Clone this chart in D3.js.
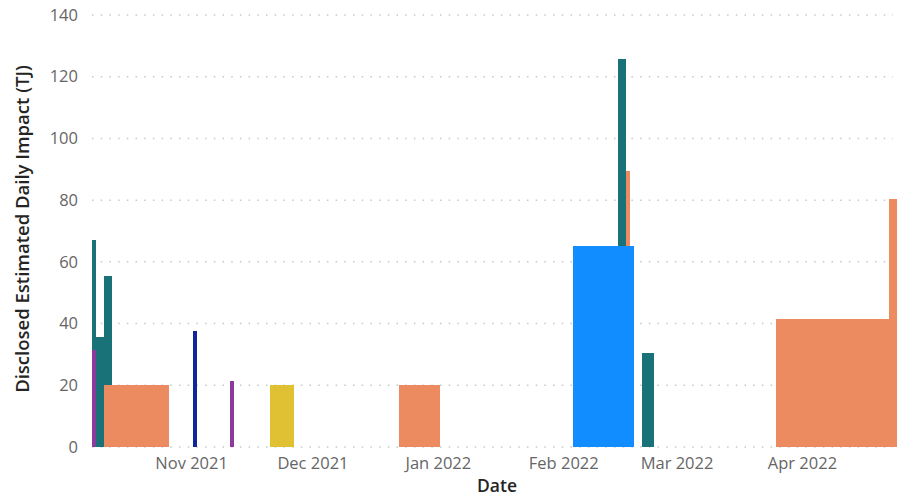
<!DOCTYPE html>
<html>
<head>
<meta charset="utf-8">
<script src="https://cdn.jsdelivr.net/npm/d3@7"></script>
<style>
  html, body { margin: 0; padding: 0; background: #fff; }
  svg { display: block; }
  .tick-label { font-family: "Segoe UI", "Open Sans", sans-serif; font-size: 16.5px; fill: #666666; }
  .axis-title { font-family: "Segoe UI", "Open Sans", sans-serif; font-weight: 600; fill: #252423; }
</style>
</head>
<body>
<svg id="chart" width="897" height="498"></svg>
<script>
// Disclosed events: one entry per event, first and last day inclusive,
// value is the estimated daily impact in TJ.
const eventSeries = ["purple", "teal", "orange", "navy", "purple", "yellow", "orange",
                     "blue", "teal", "orange", "teal", "orange", "orange"];
const eventFirst  = ["2021-10-08", "2021-10-08", "2021-10-11", "2021-11-02", "2021-11-11", "2021-11-21", "2021-12-23",
                     "2022-02-04", "2022-02-15", "2022-02-17", "2022-02-21", "2022-03-26", "2022-04-23"];
const eventLast   = ["2021-10-08", "2021-10-12", "2021-10-26", "2021-11-02", "2021-11-11", "2021-11-26", "2022-01-01",
                     "2022-02-18", "2022-02-16", "2022-02-17", "2022-02-23", "2022-04-22", "2022-04-24"];
const eventValue  = [31.5, 35.5, 20, 37.6, 21.3, 20, 20,
                     65, 60.6, 24.4, 30.4, 41.4, 80.4];

// Stacking order (bottom to top) and fill of each series
const seriesOrder  = ["blue", "purple", "navy", "yellow", "orange", "teal"];
const seriesColors = ["#118DFF", "#8C3A9B", "#12239E", "#E0C134", "#EC8A60", "#197278"];

// Axis settings
const yTicks = [0, 20, 40, 60, 80, 100, 120, 140];
const xDomain = ["2021-10-07T12:00", "2022-04-24T12:00"];

const parseDay = d3.utcParse("%Y-%m-%d");
const parseStamp = d3.utcParse("%Y-%m-%dT%H:%M");

const svg = d3.select("#chart");
const plot = { left: 92, right: 897, top: 15, bottom: 447 };

const x = d3.scaleUtc()
  .domain(xDomain.map(parseStamp))
  .range([plot.left, plot.right]);
const y = d3.scaleLinear()
  .domain([0, 140])
  .range([plot.bottom, plot.top]);
const color = d3.scaleOrdinal(seriesOrder, seriesColors);

// Gridlines (dotted)
svg.append("g")
  .selectAll("line")
  .data(yTicks)
  .join("line")
  .attr("x1", plot.left)
  .attr("x2", 893)
  .attr("y1", d => y(d))
  .attr("y2", d => y(d))
  .attr("stroke", "#C8C8C8")
  .attr("stroke-width", 1.5)
  .attr("stroke-dasharray", "1.5 7.2");

// Build events and stack them day by day
const events = eventSeries.map((s, i) => ({
  series: s,
  first: parseDay(eventFirst[i]),
  last: parseDay(eventLast[i]),
  value: eventValue[i],
  rank: seriesOrder.indexOf(s)
}));

const allDays = d3.utcDay.range(
  d3.min(events, e => e.first),
  d3.utcDay.offset(d3.max(events, e => e.last), 1)
);

// For every event, the base it sits on for each of its days
const segments = [];
events.forEach(e => { e.days = []; });
allDays.forEach(day => {
  const active = events
    .filter(e => e.first <= day && day <= e.last)
    .sort((a, b) => a.rank - b.rank);
  let base = 0;
  active.forEach(e => {
    e.days.push({ day, base });
    base += e.value;
  });
});

// Merge consecutive days with an equal base into one block
events.forEach(e => {
  let cur = null;
  e.days.forEach(d => {
    if (cur && cur.base === d.base && +d3.utcDay.offset(cur.end, 1) === +d.day) {
      cur.end = d.day;
    } else {
      cur = { series: e.series, start: d.day, end: d.day, base: d.base, value: e.value };
      segments.push(cur);
    }
  });
});

// Each day's column is centred on its date
const halfBefore = d => d3.utcHour.offset(d, -12);
const halfAfter = d => d3.utcHour.offset(d, 12);

svg.append("clipPath").attr("id", "plot-clip")
  .append("rect")
  .attr("x", plot.left).attr("y", 0)
  .attr("width", plot.right - plot.left).attr("height", plot.bottom + 1);

svg.append("g")
  .attr("clip-path", "url(#plot-clip)")
  .selectAll("rect")
  .data(segments)
  .join("rect")
  .attr("x", d => x(halfBefore(d.start)))
  .attr("width", d => x(halfAfter(d.end)) - x(halfBefore(d.start)))
  .attr("y", d => y(d.base + d.value))
  .attr("height", d => y(d.base) - y(d.base + d.value))
  .attr("fill", d => color(d.series))
  .attr("shape-rendering", "crispEdges");

// Y axis labels
const yAxis = svg.append("g")
  .attr("transform", `translate(${plot.left},0)`)
  .call(d3.axisLeft(y).tickValues(yTicks).tickSize(0).tickPadding(14));
yAxis.select(".domain").remove();
yAxis.selectAll("text").attr("class", "tick-label").attr("font-family", null).attr("font-size", null);

// X axis labels at month starts
const xAxis = svg.append("g")
  .attr("transform", `translate(0,${plot.bottom})`)
  .call(d3.axisBottom(x)
    .ticks(d3.utcMonth.every(1))
    .tickFormat(d3.utcFormat("%b %Y"))
    .tickSize(0)
    .tickPadding(10));
xAxis.select(".domain").remove();
xAxis.selectAll("text").attr("class", "tick-label").attr("font-family", null).attr("font-size", null);

// Axis titles
svg.append("text")
  .attr("class", "axis-title")
  .attr("transform", "translate(29,229) rotate(-90)")
  .attr("text-anchor", "middle")
  .attr("font-size", 18.5)
  .text("Disclosed Estimated Daily Impact (TJ)");

svg.append("text")
  .attr("class", "axis-title")
  .attr("x", 497)
  .attr("y", 492)
  .attr("text-anchor", "middle")
  .attr("font-size", 17.5)
  .text("Date");
</script>
</body>
</html>
